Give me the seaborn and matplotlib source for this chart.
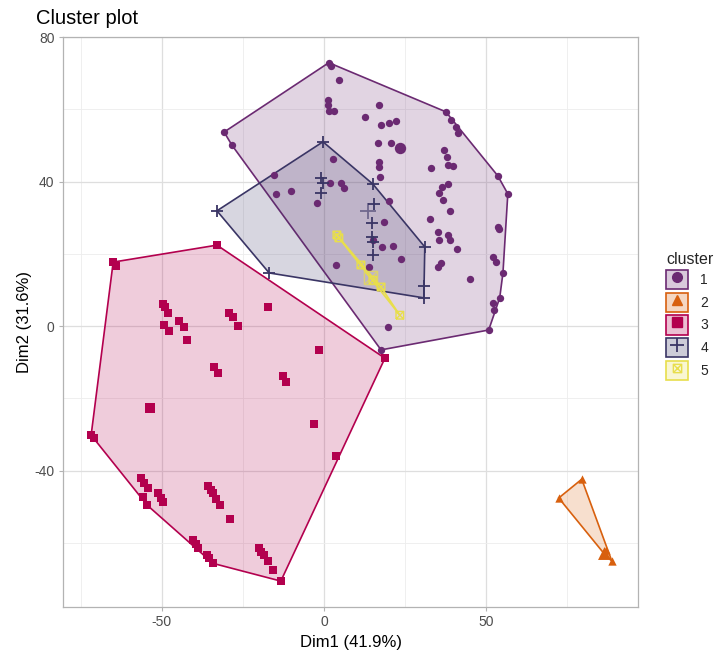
import numpy as np
import pandas as pd
import matplotlib
matplotlib.use("Agg")
import matplotlib.pyplot as plt
from matplotlib.path import Path
from matplotlib.patches import Patch
from matplotlib.lines import Line2D
from matplotlib.legend_handler import HandlerTuple
from matplotlib.colors import to_rgba
import seaborn as sns

# ---------------- data ----------------
c1_x = [1.5, 2.2, 4.6, 1.2, 1.2, 1.5, 3.1, 16.9, 12.6, 17.6, 20.0, 22.2, 16.6, 20.6,
        37.0, 37.9, 38.2, 39.8, 33.0, 16.9, 16.9, 17.3, 2.8, 36.4, 38.2, 35.4, 36.7,
        38.8, 20.0, 32.7, 18.5, 35.1, 35.4, 38.2, 38.8, 41.0, 23.7, 17.9, 21.3, 53.6,
        53.9, 52.1, 53.0, 35.1, 36.1, 45.0, 54.2, 52.1, 52.4, 19.7, 3.7, 13.9, -15.4,
        -14.8, -10.2, -2.2, 1.8, 5.2, 6.2, 15.1, 37.6, 39.1, 40.7, 41.3, 53.6, 56.7,
        55.2, 50.8, 17.6, -30.8, -28.4]
c1_y = [72.9, 72.0, 68.1, 62.6, 61.2, 59.6, 59.6, 61.2, 57.9, 55.7, 56.2, 56.8, 50.7, 50.7,
        48.8, 46.8, 44.6, 44.3, 43.8, 45.4, 44.0, 41.3, 46.3, 38.5, 39.3, 36.8, 34.9,
        31.9, 34.6, 29.6, 28.8, 26.0, 23.8, 25.2, 23.8, 21.3, 18.6, 21.9, 22.2, 27.4,
        27.0, 19.1, 17.7, 16.3, 17.5, 13.0, 7.8, 6.4, 4.4, -0.3, 16.9, 16.3, 41.8,
        36.6, 37.4, 34.1, 39.6, 39.6, 38.2, 23.8, 59.3, 57.1, 55.1, 53.5, 41.6, 36.6,
        14.7, -1.1, -6.6, 53.7, 50.1]

c2_x = [72.4, 79.5, 86.3, 86.9, 88.8]
c2_y = [-47.6, -42.4, -62.9, -62.0, -65.1]

c3_x = [-65.0, -64.1, -33.0, 18.8, -13.3, -34.2, -71.8, -70.9,
        -49.6, -49.0, -48.1, -49.3, -47.8, -44.7, -43.1, -42.2, -29.3, -28.0, -26.5,
        -17.3, -33.9, -32.7, -12.6, -11.7, -1.5, -3.1, 3.7, -56.4, -55.6, -54.2,
        -55.8, -54.5, -51.2, -50.4, -49.6, -35.7, -34.9, -34.2, -33.3, -32.0, -29.0,
        -40.4, -39.6, -38.8, -35.4, -36.0, -20.0, -19.3, -18.5, -17.3, -15.7]
c3_y = [17.7, 16.6, 22.4, -8.9, -70.6, -65.7, -30.2, -31.0,
        6.1, 5.3, 3.6, 0.3, -1.4, 1.4, -0.3, -3.9, 3.6, 2.5, 0.0,
        5.3, -11.4, -13.0, -13.9, -15.5, -6.6, -27.1, -36.0, -42.1, -43.5, -44.9,
        -47.4, -49.6, -46.3, -47.5, -48.8, -44.3, -45.3, -46.3, -47.9, -49.6, -53.5,
        -59.3, -60.4, -61.5, -64.3, -63.4, -61.5, -62.5, -63.4, -65.1, -67.6]

c4_x = [-0.3, 15.1, 31.1, 30.8, -16.9, -33.0, -0.9, -0.3, -0.9, 15.4, 14.8, 14.8, 15.1,
        15.1, 30.8]
c4_y = [51.0, 39.3, 21.9, 7.8, 14.7, 31.9, 41.0, 39.6, 36.8, 33.8, 28.5, 24.7, 23.3,
        19.7, 11.1]

c5_x = [4.0, 4.6, 11.4, 15.1, 17.6, 23.4]
c5_y = [25.2, 24.4, 16.9, 12.7, 10.8, 3.0]

# cluster centres (drawn larger)
cent_x = [23.4, 86.3, -53.6, 13.6, 14.5]
cent_y = [49.3, -62.9, -22.7, 31.9, 13.3]

cluster_labels = ["1", "2", "3", "4", "5"]
colors = ["#6B2A72", "#D8600E", "#B3004E", "#3A3565", "#E8DE4C"]

x_ticks = [-50, 0, 50]
y_ticks = [-40, 0, 40, 80]
title = "Cluster plot"
xlabel = "Dim1 (41.9%)"
ylabel = "Dim2 (31.6%)"

# ---------------- style ----------------
sns.set_theme(style="white")
plt.rcParams["font.family"] = ["Liberation Sans", "DejaVu Sans"]
plt.rcParams["axes.unicode_minus"] = False

# square-with-cross marker (ggplot shape 7)
sq_cross = Path(
    [(-1, -1), (1, -1), (1, 1), (-1, 1), (-1, -1), (-1, -1), (1, 1), (-1, 1), (1, -1)],
    [Path.MOVETO, Path.LINETO, Path.LINETO, Path.LINETO, Path.LINETO,
     Path.MOVETO, Path.LINETO, Path.MOVETO, Path.LINETO])

markers = ["o", "^", "s", "+", sq_cross]
sizes = [28, 36, 26, 64, 30]

xs = [c1_x, c2_x, c3_x, c4_x, c5_x]
ys = [c1_y, c2_y, c3_y, c4_y, c5_y]

frames = []
for lab, x, y in zip(cluster_labels, xs, ys):
    frames.append(pd.DataFrame({"Dim1": x, "Dim2": y, "cluster": lab}))
df = pd.concat(frames, ignore_index=True)
cent_df = pd.DataFrame({"Dim1": cent_x, "Dim2": cent_y, "cluster": cluster_labels})


def convex_hull(pts):
    pts = sorted(set(pts))
    if len(pts) < 3:
        return pts
    def cross(o, a, b):
        return (a[0]-o[0])*(b[1]-o[1]) - (a[1]-o[1])*(b[0]-o[0])
    lower, upper = [], []
    for p in pts:
        while len(lower) >= 2 and cross(lower[-2], lower[-1], p) <= 0:
            lower.pop()
        lower.append(p)
    for p in reversed(pts):
        while len(upper) >= 2 and cross(upper[-2], upper[-1], p) <= 0:
            upper.pop()
        upper.append(p)
    return lower[:-1] + upper[:-1]


fig = plt.figure(figsize=(7.15, 6.5), dpi=100)
ax = fig.add_axes([0.088, 0.066, 0.805, 0.877])

# hull polygons
for lab, col in zip(cluster_labels, colors):
    sub = df[df.cluster == lab]
    allpts = list(zip(sub.Dim1, sub.Dim2))
    c = cent_df[cent_df.cluster == lab]
    allpts += list(zip(c.Dim1, c.Dim2))
    hull = np.array(convex_hull(allpts))
    ax.fill(hull[:, 0], hull[:, 1], facecolor=to_rgba(col, 0.2), edgecolor=col,
            linewidth=1.2, zorder=2)

# points
for lab, col, mk, sz in zip(cluster_labels, colors, markers, sizes):
    sub = df[df.cluster == lab]
    c = cent_df[cent_df.cluster == lab]
    if mk == "+":
        sns.scatterplot(data=sub, x="Dim1", y="Dim2", marker="+", color=col, s=sz,
                        linewidth=1.3, ax=ax, legend=False, zorder=3)
        sns.scatterplot(data=c, x="Dim1", y="Dim2", marker="+", color=to_rgba(col, 0.6),
                        s=sz * 2.2, linewidth=1.3, ax=ax, legend=False, zorder=3)
    elif lab == "5":
        ax.scatter(sub.Dim1, sub.Dim2, marker=mk, s=sz, facecolors="none",
                   edgecolors=col, linewidths=1.0, zorder=3)
        ax.scatter(c.Dim1, c.Dim2, marker=mk, s=sz * 3, facecolors="none",
                   edgecolors=to_rgba(col, 0.7), linewidths=1.0, zorder=3)
    else:
        sns.scatterplot(data=sub, x="Dim1", y="Dim2", marker=mk, color=col, s=sz,
                        linewidth=0, ax=ax, legend=False, zorder=3)
        sns.scatterplot(data=c, x="Dim1", y="Dim2", marker=mk, color=col, s=sz * 2.4,
                        linewidth=0, ax=ax, legend=False, zorder=3)

ax.set_xlim(-80.5, 97.0)
ax.set_ylim(-77.8, 80.0)
ax.set_xticks(x_ticks)
ax.set_yticks(y_ticks)
ax.set_xticks([-75, -25, 25, 75], minor=True)
ax.set_yticks([-60, -20, 20, 60], minor=True)
ax.grid(True, which="major", color="#DEDEDE", linewidth=0.9, zorder=0)
ax.grid(True, which="minor", color="#EDEDED", linewidth=0.6, zorder=0)
ax.set_axisbelow(True)
for s in ax.spines.values():
    s.set_color("#B3B3B3")
    s.set_linewidth(0.9)
ax.tick_params(axis="both", which="major", length=3, width=0.8, color="#B3B3B3",
               labelsize=10, labelcolor="#4D4D4D", pad=3, bottom=True, left=True)
ax.tick_params(axis="both", which="minor", length=0)

ax.set_xlabel(xlabel, fontsize=12, color="black", labelpad=4)
ax.set_ylabel(ylabel, fontsize=12, color="black", labelpad=2)
fig.text(0.05, 0.972, title, fontsize=14.5, color="black", ha="left", va="center")

# legend
handles = []
for col, mk in zip(colors, markers):
    patch = Patch(facecolor=to_rgba(col, 0.25), edgecolor=col, linewidth=1.2)
    if mk == "+":
        ln = Line2D([], [], marker="+", color=col, linestyle="none", markersize=10,
                    markeredgewidth=1.3)
    elif isinstance(mk, Path):
        ln = Line2D([], [], marker=mk, color=col, markerfacecolor="none",
                    linestyle="none", markersize=6, markeredgewidth=1.0)
    else:
        ln = Line2D([], [], marker=mk, color=col, linestyle="none", markersize=7)
    handles.append((patch, ln))

leg = fig.legend(handles, cluster_labels, title="cluster",
                 handler_map={tuple: HandlerTuple(ndivide=1)},
                 loc="upper left", bbox_to_anchor=(0.932, 0.613),
                 frameon=False, fontsize=10, title_fontsize=11.5,
                 handlelength=1.55, handleheight=1.75, labelspacing=0.25,
                 handletextpad=0.9, borderpad=0.0, borderaxespad=0.0)
leg._legend_box.align = "left"

fig.savefig("out.png", dpi=100)
